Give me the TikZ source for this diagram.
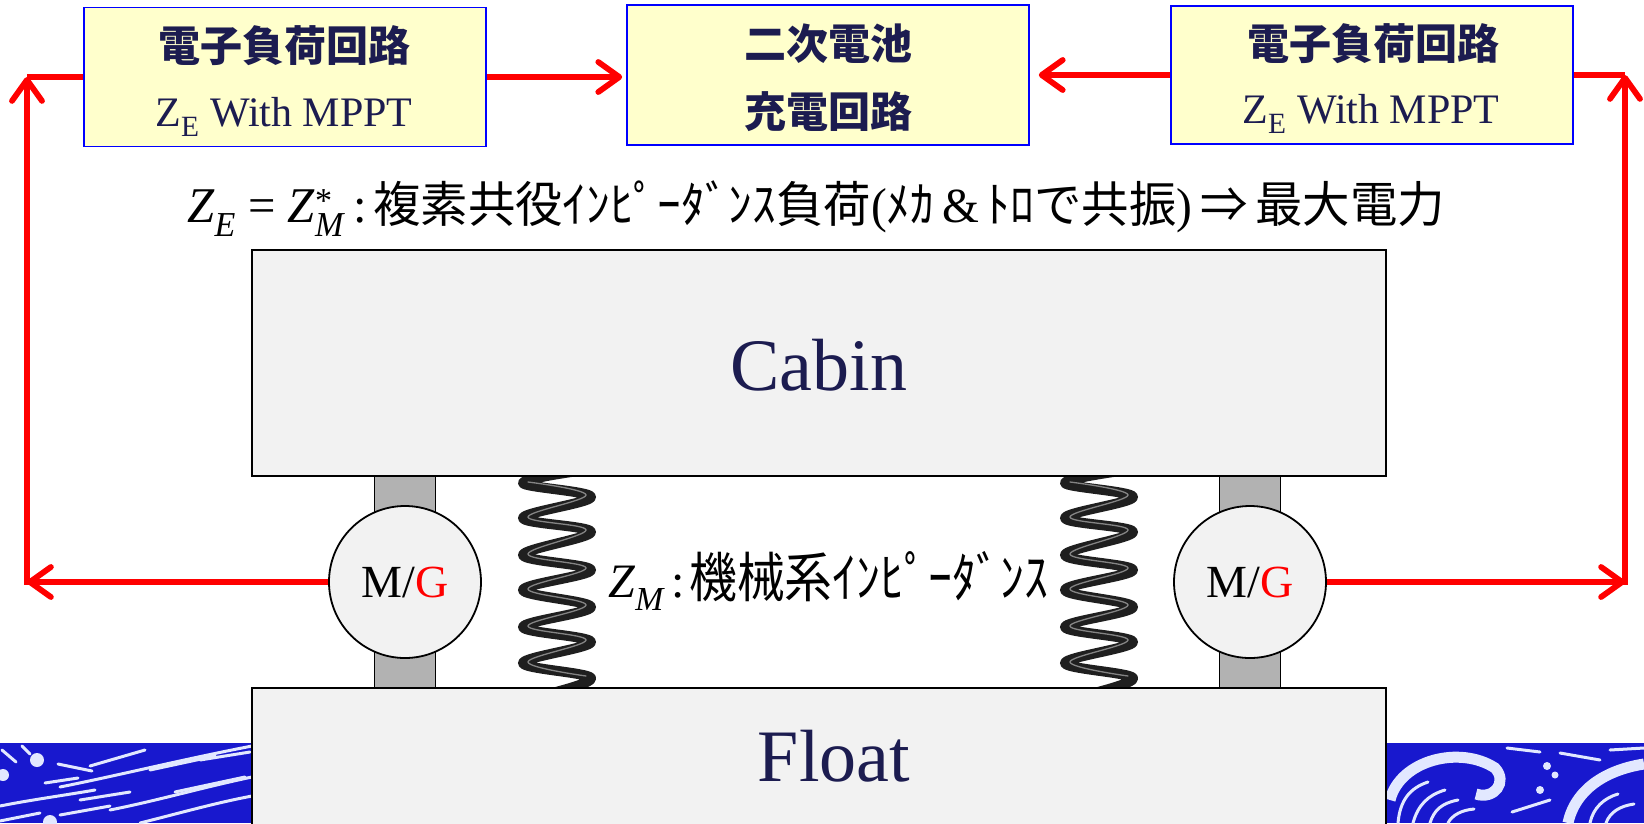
\documentclass[tikz,border=0pt]{standalone}
\usepackage{fontspec}
\usepackage{graphicx}
\setmainfont{Liberation Serif}
\newfontfamily\cjk{Noto Sans CJK JP}
\usetikzlibrary{arrows.meta}

\definecolor{navy}{RGB}{28,28,80}
\definecolor{boxfill}{RGB}{255,255,204}
\definecolor{panel}{RGB}{242,242,242}
\definecolor{postgray}{RGB}{178,178,178}
\definecolor{sea}{RGB}{24,24,206}
\definecolor{foam}{RGB}{226,232,255}

\tikzset{
  circuit/.style={draw=blue, line width=1.6pt, fill=boxfill, minimum width=402pt,
    minimum height=139pt, inner sep=0pt},
  boxjp/.style={text=navy, inner sep=0pt, font=\fontsize{42pt}{42pt}\selectfont\cjk\bfseries},
  boxen/.style={text=navy, inner sep=0pt, anchor=base, font=\fontsize{42pt}{42pt}\selectfont},
  panelbox/.style={draw=black, line width=2.2pt, fill=panel, minimum width=1134pt, inner sep=0pt},
  paneltext/.style={text=navy, inner sep=0pt, anchor=base, font=\fontsize{74pt}{74pt}\selectfont},
  postbar/.style={draw=black, line width=1.8pt, fill=postgray, minimum width=61pt,
    minimum height=212pt, inner sep=0pt},
  machine/.style={circle, draw=black, line width=1.8pt, fill=panel, minimum size=152pt,
    inner sep=0pt, font=\fontsize{46pt}{46pt}\selectfont},
  redline/.style={draw=red, line width=5.8pt},
  redarrow/.style={redline, -{Straight Barb[round,length=21pt,width=30pt]}},
  coil/.style={line width=10pt, draw=black!88, line cap=round, line join=round},
  glint/.style={line width=1.3pt, draw=white, opacity=0.45, line cap=round},
  foamline/.style={draw=foam, line width=3pt, line cap=round},
}

\newcommand{\subtxt}[2]{#1\textsubscript{#2}}

\begin{document}
\begin{tikzpicture}[x=1pt,y=-1pt]
\useasboundingbox (0,0) rectangle (1644,823);
\clip (0,0) rectangle (1644,823);

% ---- sea strips under the float ----
\fill[sea] (0,743) rectangle (252,823);
\fill[sea] (1386,743) rectangle (1644,823);
% streaks on the left
\draw[foamline] (60,787) .. controls (120,775) and (180,760) .. (252,746);
\draw[foamline] (110,810) .. controls (160,800) and (200,788) .. (252,777);
\draw[foamline] (140,823) .. controls (180,813) and (215,803) .. (252,796);
\draw[foamline] (0,806) .. controls (30,800) and (60,796) .. (95,790);
\draw[foamline] (90,766) -- (145,750);
\draw[foamline] (58,764) -- (92,771);
\draw[foamline] (45,783) -- (78,778);
\draw[foamline] (150,770) -- (215,756);
\draw[foamline] (0,821) -- (40,813);
\draw[foamline] (175,792) -- (245,777);
\draw[foamline] (2,750) -- (16,762);
\draw[foamline] (22,746) -- (30,754);
\draw[foamline] (200,760) -- (250,752);
\draw[foamline] (80,800) -- (130,792);
\draw[foamline] (60,815) -- (110,806);
\fill[foam] (37,760) circle (7);
\fill[foam] (3,775) circle (6);
\fill[foam] (50,822) circle (7);
% waves on the right
\draw[foam, line width=11pt] (1390,800) .. controls (1400,760) and (1460,745) .. (1495,768)
  .. controls (1508,782) and (1494,800) .. (1476,794);
\draw[foamline] (1398,823) .. controls (1400,800) and (1410,788) .. (1428,782);
\draw[foamline] (1413,823) .. controls (1418,805) and (1428,795) .. (1445,790);
\draw[foamline] (1430,823) .. controls (1434,810) and (1442,803) .. (1458,800);
\draw[foamline] (1448,823) .. controls (1452,815) and (1462,810) .. (1474,809);
\draw[foam, line width=11pt] (1568,823) .. controls (1575,790) and (1605,770) .. (1644,764);
\draw[foamline] (1590,823) .. controls (1593,808) and (1604,798) .. (1618,794);
\draw[foamline] (1606,823) .. controls (1610,812) and (1620,806) .. (1634,804);
\draw[foamline] (1507,748) -- (1540,752);
\draw[foamline] (1560,753) -- (1600,760);
\draw[foamline] (1610,750) -- (1644,748);
\draw[foamline] (1512,812) -- (1550,800);
\fill[foam] (1547,766) circle (4);
\fill[foam] (1555,775) circle (3.5);
\fill[foam] (1540,790) circle (4);

% ---- coil springs ----
\foreach \cx in {557,1099} {
  \begin{scope}[shift={(\cx,0)}]
    \draw[coil] plot[smooth, tension=0.6] coordinates {(28,470) (-34,483) (34,497) (-34,518)
      (34,532) (-34,555) (34,570) (-34,590) (34,607) (-34,627) (34,642) (-34,663) (34,678) (-17,696)};
    \draw[glint, yshift=2pt] plot[smooth, tension=0.6] coordinates {(-29,484) (29,497) (-29,519)
      (29,532) (-29,556) (29,570) (-29,591) (29,607) (-29,628) (29,642) (-29,664) (29,678)};
  \end{scope}
}

% ---- motor/generator posts ----
\node[postbar] (pL) at (405,582) {};
\node[postbar] (pR) at (1250,582) {};

% ---- cabin and float ----
\node[panelbox, minimum height=226pt] (cabin) at (819,363) {};
\node[paneltext] (cabinT) at (819,390) {Cabin};
\node[panelbox, minimum height=152pt] (float) at (819,764) {};
\node[paneltext] (floatT) at (834,781) {Float};

% ---- motor/generators ----
\node[machine] (mgL) at (405,582) {M/\textcolor{red}{G}};
\node[machine] (mgR) at (1250,582) {M/\textcolor{red}{G}};

% ---- mechanical impedance label ----
\node[anchor=base west, inner sep=0pt, font=\fontsize{48pt}{48pt}\selectfont] (zmA) at (608,597)
  {\subtxt{\textit{Z}}{\textit{M}}};
\node[anchor=base west, inner sep=0pt, font=\fontsize{48pt}{48pt}\selectfont] (zmB) at (671,597) {:};
\node[anchor=base west, inner sep=0pt] (zmC) at (689,597)
  {\resizebox{359pt}{\height}{\fontsize{54pt}{54pt}\selectfont\cjk 機械系ｲﾝﾋﾟｰﾀﾞﾝｽ}};

% ---- impedance matching statement ----
\node[anchor=base west, inner sep=0pt] (eqA) at (187,222)
  {\resizebox{180pt}{\height}{\fontsize{50pt}{50pt}\selectfont
   \subtxt{\textit{Z}}{\textit{E}} = \textit{Z}\makebox[0pt][l]{\textsuperscript{*}}\textsubscript{\textit{M}}\,:}};
\node[anchor=base west, inner sep=0pt] (eqB) at (373,222)
  {\resizebox{1072pt}{\height}{\fontsize{49pt}{49pt}\selectfont\cjk
   複素共役ｲﾝﾋﾟｰﾀﾞﾝｽ負荷{\rmfamily(}ﾒｶ{\rmfamily\,\&\,}ﾄﾛで共振{\rmfamily)}\,⇒\,最大電力}};

% ---- circuit boxes ----
\node[circuit] (bL) at (285,77) {};
\node[circuit, minimum height=140pt] (bM) at (828,75) {};
\node[circuit, minimum height=138pt] (bR) at (1372,75) {};
\node[boxjp] (bL1) at (284,46) {電子負荷回路};
\node[boxen] (bL2) at (284,126) {\subtxt{Z}{E} With MPPT};
\node[boxjp] (bM1) at (828,44) {二次電池};
\node[boxjp] (bM2) at (828,112) {充電回路};
\node[boxjp] (bR1) at (1373,44) {電子負荷回路};
\node[boxen] (bR2) at (1371,123) {\subtxt{Z}{E} With MPPT};

% ---- power flow ----
\coordinate (cLb) at (27,582);
\coordinate (cLt) at (27,77);
\coordinate (cRb) at (1625,582);
\coordinate (cRt) at (1625,75);
\draw[redarrow] (mgL.west) -- (cLb);
\draw[redarrow] ([yshift=-2.9pt]cLb) -- (cLt);
\draw[redline] (cLt) -- (bL.west);
\draw[redarrow] (mgR.east) -- (cRb);
\draw[redarrow] ([yshift=-2.9pt]cRb) -- (cRt);
\draw[redline] (bR.east) -- (cRt);
\draw[redarrow, shorten >=4pt] (bL.east) -- (bL.east -| bM.west);
\draw[redarrow, shorten >=9pt] (bR.west) -- (bR.west -| bM.east);
\end{tikzpicture}
\end{document}
